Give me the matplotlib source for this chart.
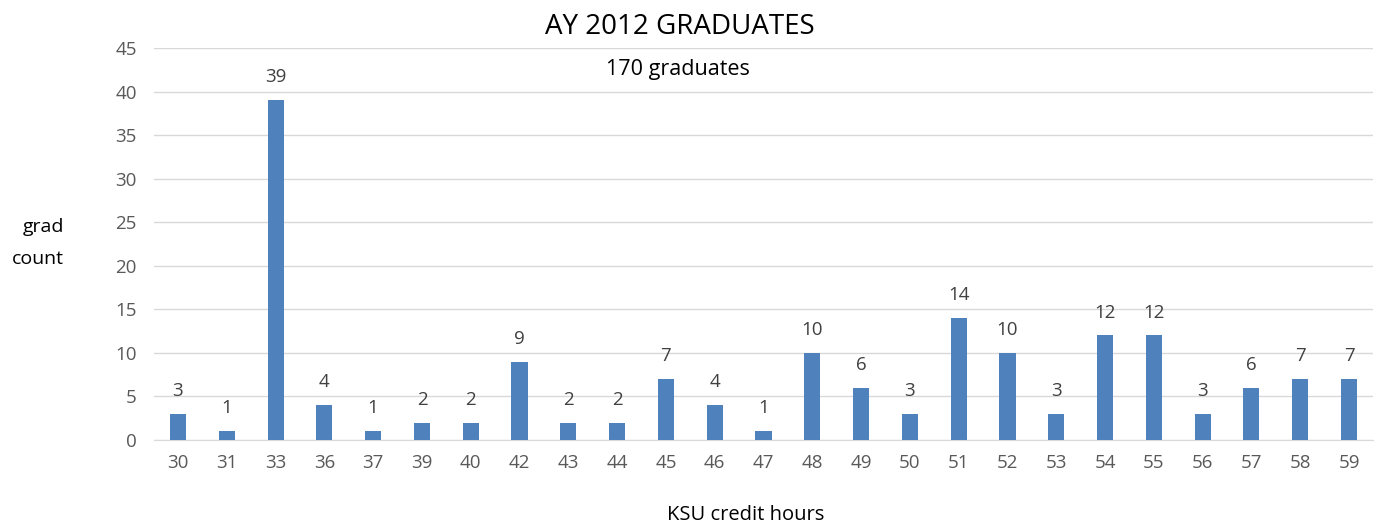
import matplotlib
matplotlib.use("Agg")
import matplotlib.pyplot as plt

hours = ["30", "31", "33", "36", "37", "39", "40", "42", "43", "44", "45", "46", "47",
         "48", "49", "50", "51", "52", "53", "54", "55", "56", "57", "58", "59"]
counts = [3, 1, 39, 4, 1, 2, 2, 9, 2, 2, 7, 4, 1, 10, 6, 3, 14, 10, 3, 12, 12, 3, 6, 7, 7]
yticks = [0, 5, 10, 15, 20, 25, 30, 35, 40, 45]

plt.rcParams['font.family'] = ['Open Sans', 'DejaVu Sans']

fig = plt.figure(figsize=(13.77, 5.25), dpi=100)
ax = fig.add_axes([153.6/1377, 1-440/525, (1373.4-153.6)/1377, (440-48)/525])

x = list(range(len(hours)))
ax.bar(x, counts, width=0.33, color="#4F81BD", zorder=3)
for xi, c in zip(x, counts):
    ax.text(xi, c + 1.6, str(c), ha="center", va="bottom", fontsize=13.5, color="#404040")

ax.set_xlim(-0.5, len(hours) - 0.5)
ax.set_ylim(0, 45)
ax.set_yticks(yticks)
ax.set_xticks(x)
ax.set_xticklabels(hours)
ax.tick_params(axis="both", length=0, labelsize=13.5, labelcolor="#595959")
ax.tick_params(axis="x", pad=10)
ax.tick_params(axis="y", pad=12)
ax.grid(axis="y", color="#D9D9D9", linewidth=1, zorder=0)
for s in ["top", "right", "left"]:
    ax.spines[s].set_visible(False)
ax.spines["bottom"].set_color("#D9D9D9")

fig.text(680/1377, 1-27/525, "AY 2012 GRADUATES", ha="center", va="center", fontsize=20, color="#000000")
fig.text(678/1377, 1-70/525, "170 graduates", ha="center", va="center", fontsize=15.5, color="#000000")
fig.text(64/1377, 1-243/525, "grad\ncount", ha="right", va="center", multialignment="right",
         fontsize=14, color="#000000", linespacing=2.0)
fig.text(746/1377, 1-515/525, "KSU credit hours", ha="center", va="center", fontsize=14.5, color="#000000")

fig.savefig("out.png", dpi=100)
